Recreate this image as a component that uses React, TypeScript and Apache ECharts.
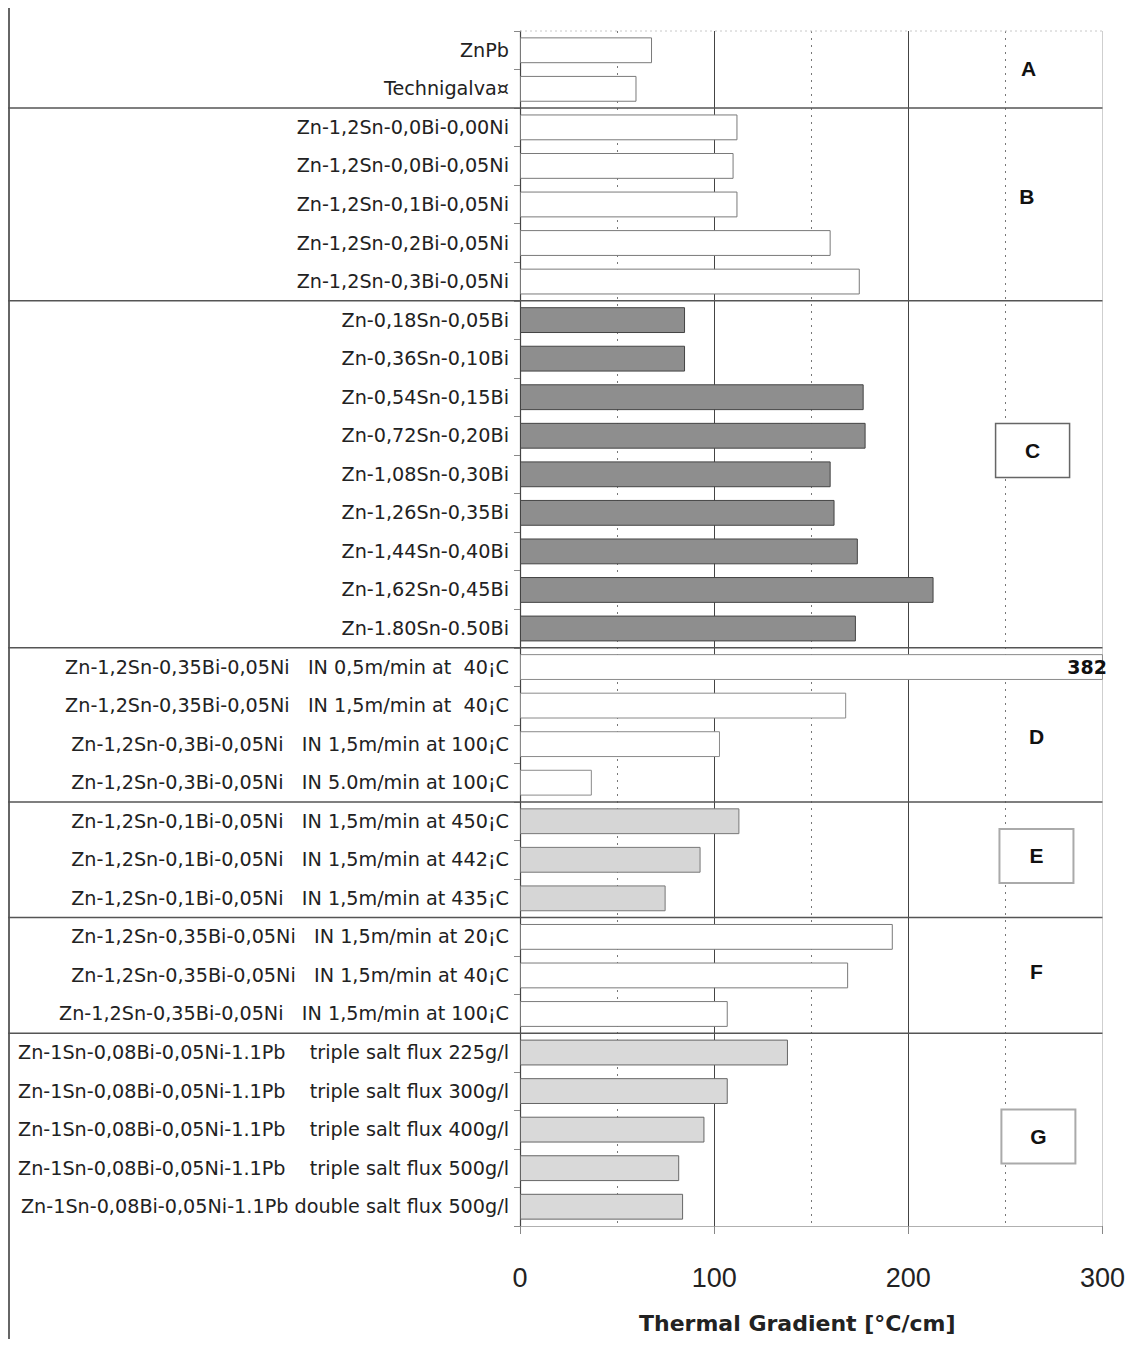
import React, { useEffect, useRef } from "react";
import * as echarts from "echarts";

const categories: string[] = [
  "ZnPb",
  "Technigalva¤",
  "Zn-1,2Sn-0,0Bi-0,00Ni",
  "Zn-1,2Sn-0,0Bi-0,05Ni",
  "Zn-1,2Sn-0,1Bi-0,05Ni",
  "Zn-1,2Sn-0,2Bi-0,05Ni",
  "Zn-1,2Sn-0,3Bi-0,05Ni",
  "Zn-0,18Sn-0,05Bi",
  "Zn-0,36Sn-0,10Bi",
  "Zn-0,54Sn-0,15Bi",
  "Zn-0,72Sn-0,20Bi",
  "Zn-1,08Sn-0,30Bi",
  "Zn-1,26Sn-0,35Bi",
  "Zn-1,44Sn-0,40Bi",
  "Zn-1,62Sn-0,45Bi",
  "Zn-1.80Sn-0.50Bi",
  "Zn-1,2Sn-0,35Bi-0,05Ni   IN 0,5m/min at  40¡C",
  "Zn-1,2Sn-0,35Bi-0,05Ni   IN 1,5m/min at  40¡C",
  "Zn-1,2Sn-0,3Bi-0,05Ni   IN 1,5m/min at 100¡C",
  "Zn-1,2Sn-0,3Bi-0,05Ni   IN 5.0m/min at 100¡C",
  "Zn-1,2Sn-0,1Bi-0,05Ni   IN 1,5m/min at 450¡C",
  "Zn-1,2Sn-0,1Bi-0,05Ni   IN 1,5m/min at 442¡C",
  "Zn-1,2Sn-0,1Bi-0,05Ni   IN 1,5m/min at 435¡C",
  "Zn-1,2Sn-0,35Bi-0,05Ni   IN 1,5m/min at 20¡C",
  "Zn-1,2Sn-0,35Bi-0,05Ni   IN 1,5m/min at 40¡C",
  "Zn-1,2Sn-0,35Bi-0,05Ni   IN 1,5m/min at 100¡C",
  "Zn-1Sn-0,08Bi-0,05Ni-1.1Pb    triple salt flux 225g/l",
  "Zn-1Sn-0,08Bi-0,05Ni-1.1Pb    triple salt flux 300g/l",
  "Zn-1Sn-0,08Bi-0,05Ni-1.1Pb    triple salt flux 400g/l",
  "Zn-1Sn-0,08Bi-0,05Ni-1.1Pb    triple salt flux 500g/l",
  "Zn-1Sn-0,08Bi-0,05Ni-1.1Pb double salt flux 500g/l",
];

const values: number[] = [
  68, 60,
  112, 110, 112, 160, 175,
  85, 85, 177, 178, 160, 162, 174, 213, 173,
  382, 168, 103, 37,
  113, 93, 75,
  192, 169, 107,
  138, 107, 95, 82, 84,
];

const groupLetters: string[] = ["A", "B", "C", "D", "E", "F", "G"];
const groupStarts: number[] = [0, 2, 7, 16, 20, 23, 26];
const groupLabelValueX: number[] = [262, 261, 264, 266, 266, 266, 267];
const groupLabelRow: number[] = [0.98, 4.3, 10.88, 18.3, 21.4, 24.4, 28.68];
const boxedGroups: string[] = ["C", "E", "G"];

const xTicks: number[] = [0, 100, 200, 300];
const xName = "Thermal Gradient [°C/cm]";

const groupStyle: Record<string, any> = {
  A: { color: "#ffffff", borderColor: "#7a7a7a" },
  B: { color: "#ffffff", borderColor: "#7a7a7a" },
  C: { color: "#8e8e8e", borderColor: "#444444" },
  D: { color: "#ffffff", borderColor: "#8a8a8a" },
  E: { color: "#d6d6d6", borderColor: "#777777" },
  F: { color: "#ffffff", borderColor: "#7a7a7a" },
  G: { color: "#d9d9d9", borderColor: "#666666" },
};

const FONT = "'Liberation Sans', Arial, Helvetica, sans-serif";
const WIDE = "'DejaVu Sans', Verdana, sans-serif";

function groupIndexOf(i: number): number {
  let g = 0;
  for (let k = 0; k < groupStarts.length; k++) if (i >= groupStarts[k]) g = k;
  return g;
}

export default function App() {
  const ref = useRef<HTMLDivElement>(null);

  useEffect(() => {
    if (!ref.current) return;
    const chart = echarts.init(ref.current, null, { renderer: "svg" });
    const xMax = xTicks[xTicks.length - 1];

    const data = values.map((v, i) => {
      const g = groupLetters[groupIndexOf(i)];
      const item: any = {
        value: v,
        itemStyle: { ...groupStyle[g], borderWidth: 1 },
      };
      if (v > xMax) {
        item.label = {
          show: true,
          position: "insideRight",
          offset: [9, 0],
          formatter: String(v),
          fontFamily: WIDE,
          fontWeight: "bold",
          fontSize: 19,
          color: "#111",
        };
      }
      return item;
    });

    chart.setOption({
      animation: false,
      backgroundColor: "#ffffff",
      grid: { left: 512, right: 25, top: 23, bottom: 111, containLabel: false },
      xAxis: {
        type: "value",
        min: xTicks[0],
        max: xMax,
        interval: 100,
        axisLine: { show: true, lineStyle: { color: "#b0b0b0", width: 1 } },
        axisTick: { show: true, length: 8, lineStyle: { color: "#888" } },
        axisLabel: {
          fontFamily: FONT,
          fontSize: 27,
          color: "#222",
          margin: 38,
        },
        splitLine: {
          show: true,
          lineStyle: { color: ["#999", "#444", "#444", "#cfcfcf"], width: 1 },
        },
        minorTick: { show: false, splitNumber: 2 },
        minorSplitLine: {
          show: true,
          lineStyle: { color: "#777", type: [2, 5], width: 1 },
        },
        name: xName,
        nameLocation: "middle",
        nameGap: 86,
        nameTextStyle: {
          fontFamily: WIDE,
          fontSize: 22,
          fontWeight: "bold",
          color: "#222",
          padding: [0, 28, 0, 0],
        },
      },
      yAxis: {
        type: "category",
        inverse: true,
        data: categories,
        axisLine: { show: true, lineStyle: { color: "#444", width: 1.2 } },
        axisTick: { show: true, length: 6, lineStyle: { color: "#888" } },
        axisLabel: {
          fontFamily: WIDE,
          fontSize: 19.2,
          color: "#222",
          margin: 11,
        },
        splitLine: { show: false },
      },
      series: [
        {
          type: "bar",
          data,
          barCategoryGap: "33%",
          clip: true,
          z: 2,
        },
      ],
    });

    const yPix = (i: number) => chart.convertToPixel({ yAxisIndex: 0 }, i) as number;
    const xPix = (v: number) => chart.convertToPixel({ xAxisIndex: 0 }, v) as number;
    const band = yPix(1) - yPix(0);
    const rowY = (r: number) => yPix(0) - band / 2 + r * band;
    const H = ref.current.clientHeight;
    const right = xPix(xMax);

    const graphics: any[] = [];
    graphics.push({
      type: "line",
      shape: { x1: 1, y1: 0, x2: 1, y2: H },
      style: { stroke: "#333", lineWidth: 1.5 },
      z: 100,
    });
    graphics.push({
      type: "line",
      shape: { x1: xPix(0), y1: rowY(0), x2: right, y2: rowY(0) },
      style: { stroke: "#c8c8c8", lineWidth: 1, lineDash: [2, 3] },
      z: 100,
    });
    groupStarts.slice(1).forEach((s) => {
      const y = rowY(s);
      graphics.push({
        type: "line",
        shape: { x1: 0, y1: y, x2: right, y2: y },
        style: { stroke: "#555", lineWidth: 1.5 },
        z: 100,
      });
    });
    groupLetters.forEach((L, k) => {
      const cx = xPix(groupLabelValueX[k]);
      const cy = rowY(groupLabelRow[k]);
      if (boxedGroups.includes(L)) {
        graphics.push({
          type: "rect",
          shape: { x: cx - 37, y: cy - 27, width: 74, height: 54 },
          style: {
            fill: "#fff",
            stroke: L === "C" ? "#666" : "#aaa",
            lineWidth: L === "C" ? 1.5 : 2,
          },
          z: 100,
        });
      }
      graphics.push({
        type: "text",
        x: cx,
        y: cy,
        style: {
          text: L,
          font: `bold 21px ${FONT}`,
          fill: "#111",
          textAlign: "center",
          align: "center",
          textVerticalAlign: "middle",
          verticalAlign: "middle",
        },
        z: 101,
      });
    });

    chart.setOption({ graphic: graphics });

    return () => chart.dispose();
  }, []);

  return <div ref={ref} style={{ width: 1120, height: 1331 }} />;
}
